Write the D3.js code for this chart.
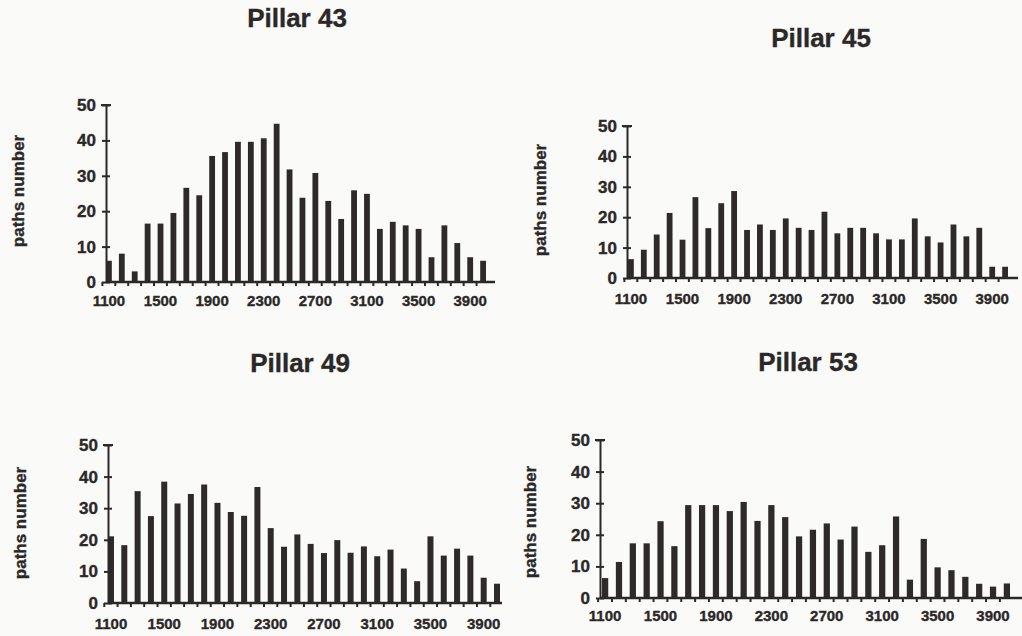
<!DOCTYPE html>
<html lang="en">
<head>
  <meta charset="UTF-8">
  <title>Pillars</title>
  <style>
    body { margin: 0; background: #fafaf8; }
    svg { display: block; }
    text { font-family: "Liberation Sans", Arial, sans-serif; font-weight: bold; fill: #2b2828; stroke: #2b2828; stroke-width: 0.35px; }
    .axis line, .axis path { stroke: #2b2828; }
  </style>
</head>
<body>
<div id="chart"></div>
<script src="https://d3js.org/d3.v7.min.js"></script>
<script>
  // bin starts, 1100 .. 4000
  const bins = d3.range(1100, 4001, 100)
  const tickLabels = [1100, 1500, 1900, 2300, 2700, 3100, 3500, 3900]
  const yTicks = [0, 10, 20, 30, 40, 50]

  const pillar43 = [6, 8, 3, 16.5, 16.5, 19.5, 26.6, 24.5, 35.6, 36.7, 39.6, 39.6, 40.6, 44.7, 31.8,
    23.8, 30.8, 22.9, 17.8, 25.9, 24.9, 15, 17, 16, 15, 7, 16, 11, 7, 6]
  const pillar45 = [6.2, 9.3, 14.3, 21.4, 12.6, 26.6, 16.4, 24.6, 28.6, 15.8, 17.6, 15.8, 19.6, 16.5, 15.8,
    21.8, 14.7, 16.5, 16.5, 14.7, 12.7, 12.7, 19.6, 13.7, 11.7, 17.6, 13.7, 16.5, 3.7, 3.7]
  const pillar49 = [21.1, 18.3, 35.4, 27.5, 38.4, 31.5, 34.5, 37.5, 31.7, 28.8, 27.6, 36.7, 23.7, 17.8, 21.7,
    18.7, 15.8, 19.9, 15.9, 17.9, 14.8, 16.9, 10.9, 6.9, 21.1, 15, 17.2, 15, 8, 6.1]
  const pillar53 = [6.3, 11.4, 17.3, 17.3, 24.3, 16.4, 29.4, 29.4, 29.4, 27.5, 30.4, 24.4, 29.4, 25.6, 19.5,
    21.6, 23.6, 18.5, 22.6, 14.6, 16.7, 25.8, 5.8, 18.7, 9.7, 8.8, 6.7, 4.5, 3.6, 4.6]

  const titles = ['Pillar 43', 'Pillar 45', 'Pillar 49', 'Pillar 53']
  const series = [pillar43, pillar45, pillar49, pillar53]

  // where each panel sits on the page (scanned page, so not a neat grid)
  const layout = [
    { ax: 106, y0: 282, y50: 105, xEnd: 495, barL: 106, barR: 486, lblY: 300, title: [297, 18], ylab: [18, 191] },
    { ax: 627, y0: 278, y50: 126, xEnd: 1018, barL: 628, barR: 1008, lblY: 298, title: [821, 38], ylab: [540, 200] },
    { ax: 108, y0: 603, y50: 445, xEnd: 502, barL: 108, barR: 500, lblY: 623, title: [300, 363], ylab: [20, 523] },
    { ax: 600, y0: 598, y50: 440, xEnd: 1025, barL: 602, barR: 1010, lblY: 615, title: [808, 362], ylab: [530, 522] }
  ]

  const W = 1022, H = 636
  const svg = d3.select('#chart').append('svg')
    .attr('width', W)
    .attr('height', H)

  series.forEach((vals, k) => {
    const L = layout[k]
    const g = svg.append('g')

    const x = d3.scaleBand()
      .domain(bins)
      .range([L.barL, L.barR])
      .paddingInner(0.55)
      .paddingOuter(0)

    const y = d3.scaleLinear()
      .domain([0, 50])
      .range([L.y0, L.y50])

    // title
    g.append('text')
      .attr('x', L.title[0])
      .attr('y', L.title[1])
      .attr('text-anchor', 'middle')
      .attr('dominant-baseline', 'central')
      .style('font-size', '26px')
      .text(titles[k])

    // y label
    g.append('text')
      .attr('transform', `translate(${L.ylab[0]}, ${L.ylab[1]}) rotate(-90)`)
      .attr('text-anchor', 'middle')
      .attr('dominant-baseline', 'central')
      .style('font-size', '17px')
      .text('paths number')

    // bars
    g.selectAll('.bar')
      .data(vals)
      .enter()
      .append('rect')
      .attr('class', 'bar')
      .attr('x', (d, i) => x(bins[i]))
      .attr('y', d => y(d))
      .attr('width', x.bandwidth())
      .attr('height', d => L.y0 - y(d))
      .attr('fill', '#2e2a2a')

    // y axis, ticks crossing the line
    const yAxis = d3.axisLeft(y)
      .tickValues(yTicks)
      .tickSizeInner(4)
      .tickSizeOuter(0)
      .tickPadding(6)
    const ya = g.append('g')
      .attr('class', 'axis')
      .attr('transform', `translate(${L.ax}, 0)`)
      .call(yAxis)
    ya.select('.domain').attr('stroke-width', 2)
    ya.selectAll('.tick line').attr('x1', 4).attr('x2', -4).attr('stroke-width', 2)
    ya.selectAll('.tick text').style('font-size', '17px').attr('fill', '#2b2828')
    ya.append('line')
      .attr('x1', -5).attr('x2', 5)
      .attr('y1', y(50)).attr('y2', y(50))
      .attr('stroke', '#2b2828').attr('stroke-width', 2)

    // x axis line with small ticks between bins
    g.append('line')
      .attr('x1', L.ax).attr('x2', L.xEnd)
      .attr('y1', L.y0).attr('y2', L.y0)
      .attr('stroke', '#2b2828').attr('stroke-width', 2.5)
    g.selectAll('.xtick')
      .data(bins)
      .enter()
      .append('line')
      .attr('class', 'xtick')
      .attr('x1', d => x(d) - x.step() * 0.28)
      .attr('x2', d => x(d) - x.step() * 0.28)
      .attr('y1', L.y0).attr('y2', L.y0 + 4)
      .attr('stroke', '#2b2828').attr('stroke-width', 2)

    g.selectAll('.xlab')
      .data(tickLabels)
      .enter()
      .append('text')
      .attr('class', 'xlab')
      .attr('x', d => x(d) + x.bandwidth() / 2)
      .attr('y', L.lblY)
      .attr('text-anchor', 'middle')
      .attr('dominant-baseline', 'central')
      .style('font-size', '15px')
      .text(d => d)
  })
</script>
</body>
</html>
